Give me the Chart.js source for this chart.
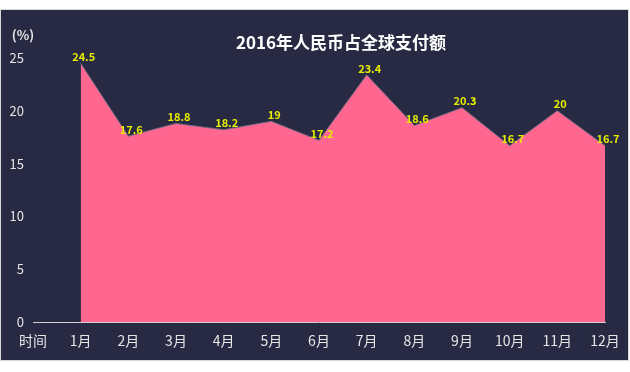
<!DOCTYPE html>
<html>
<head>
<meta charset="utf-8">
<script src="https://cdn.jsdelivr.net/npm/chart.js@4.4.0/dist/chart.umd.min.js"></script>
<style>
  html, body { margin: 0; padding: 0; background: #fff; }
  #wrap { width: 630px; height: 372px; }
</style>
</head>
<body>
<div id="wrap"><canvas id="chart" width="630" height="372"></canvas></div>
<script>
// 数据
const axisName = '时间';
const months = ['1月', '2月', '3月', '4月', '5月', '6月', '7月', '8月', '9月', '10月', '11月', '12月'];
const share = [24.5, 17.6, 18.8, 18.2, 19, 17.2, 23.4, 18.6, 20.3, 16.7, 20, 16.7];
const yTicks = [0, 5, 10, 15, 20, 25];
const titleText = '2016年人民币占全球支付额';
const unitText = '(%)';

const FONT = '"Noto Sans CJK SC", "Noto Sans", sans-serif';
const BG = '#282a43';

// 背景、标题、单位
const decor = {
    id: 'decor',
    beforeDraw(chart) {
        const ctx = chart.ctx;
        ctx.save();
        ctx.fillStyle = '#ffffff';
        ctx.fillRect(0, 0, chart.width, chart.height);
        ctx.fillStyle = BG;
        ctx.fillRect(1, 10, 627, 350);
        ctx.strokeStyle = '#d8d8d8';
        ctx.lineWidth = 1;
        ctx.strokeRect(0.5, 9.5, 628, 351);
        ctx.restore();
    },
    afterDraw(chart) {
        const ctx = chart.ctx;
        ctx.save();
        ctx.fillStyle = '#ffffff';
        ctx.font = 'bold 17px ' + FONT;
        ctx.textAlign = 'center';
        ctx.textBaseline = 'middle';
        ctx.fillText(titleText, 341, 43);
        ctx.fillStyle = '#e6e6e6';
        ctx.font = 'bold 13px ' + FONT;
        ctx.fillText(unitText, 23, 35);
        ctx.restore();
    }
};

// 数据标签
const valueLabels = {
    id: 'valueLabels',
    afterDatasetsDraw(chart) {
        const ctx = chart.ctx;
        const meta = chart.getDatasetMeta(0);
        ctx.save();
        ctx.fillStyle = '#e6ec00';
        ctx.font = 'bold 11px ' + FONT;
        ctx.textAlign = 'center';
        ctx.textBaseline = 'bottom';
        meta.data.forEach((pt, i) => {
            const v = chart.data.datasets[0].data[i];
            if (v == null) return;
            ctx.fillText(String(v), pt.x + 3, pt.y - 1);
        });
        ctx.restore();
    }
};

new Chart(document.getElementById('chart'), {
    type: 'line',
    data: {
        labels: [axisName, ...months],
        datasets: [{
            data: [null, ...share],
            borderColor: 'rgba(110,110,130,0.9)',
            borderWidth: 1,
            backgroundColor: '#ff6690',
            fill: 'origin',
            tension: 0,
            pointRadius: 0
        }]
    },
    options: {
        responsive: false,
        animation: false,
        layout: { padding: { top: 58, right: 25, bottom: 0, left: 0 } },
        plugins: {
            legend: { display: false },
            tooltip: { enabled: false }
        },
        scales: {
            x: {
                offset: false,
                grid: { display: false, drawTicks: false },
                border: { display: true, color: '#d0d0d0', width: 1 },
                ticks: {
                    color: '#e6e6e6',
                    font: { size: 14, family: FONT },
                    padding: 10,
                    maxRotation: 0,
                    autoSkip: false
                },
                afterFit(scale) { scale.height = 50; }
            },
            y: {
                min: 0,
                max: 25,
                afterBuildTicks(scale) { scale.ticks = yTicks.map(v => ({ value: v })); },
                grid: { display: false, drawTicks: false },
                border: { display: false },
                ticks: {
                    color: '#e6e6e6',
                    font: { size: 13, family: FONT },
                    padding: 9
                },
                afterFit(scale) { scale.width = 33; }
            }
        }
    },
    plugins: [decor, valueLabels]
});
</script>
</body>
</html>
